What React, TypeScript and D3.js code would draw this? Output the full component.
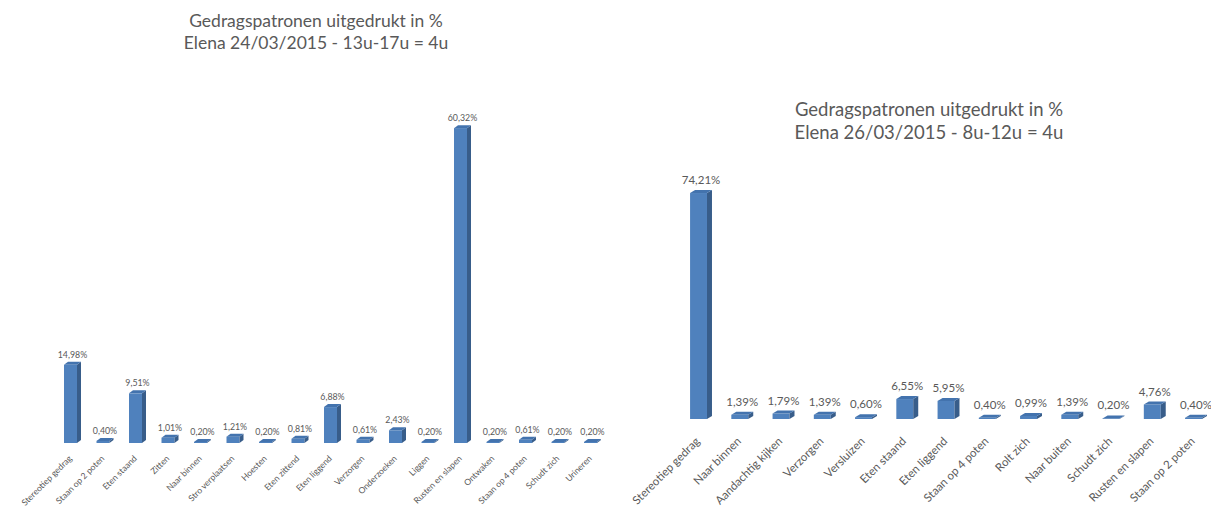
import React from "react";
import * as d3 from "d3";

const leftCategories = [
  "Stereotiep gedrag", "Staan op 2 poten", "Eten staand", "Zitten", "Naar binnen",
  "Stro verplaatsen", "Hoesten", "Eten zittend", "Eten liggend", "Verzorgen",
  "Onderzoeken", "Liggen", "Rusten en slapen", "Ontwaken", "Staan op 4 poten",
  "Schudt zich", "Urineren",
];
const leftValues = [14.98, 0.4, 9.51, 1.01, 0.2, 1.21, 0.2, 0.81, 6.88, 0.61, 2.43, 0.2, 60.32, 0.2, 0.61, 0.2, 0.2];
const leftTitle = ["Gedragspatronen uitgedrukt in %", "Elena 24/03/2015 - 13u-17u = 4u"];

const rightCategories = [
  "Stereotiep gedrag", "Naar binnen", "Aandachtig kijken", "Verzorgen", "Versluizen",
  "Eten staand", "Eten liggend", "Staan op 4 poten", "Rolt zich", "Naar buiten",
  "Schudt zich", "Rusten en slapen", "Staan op 2 poten",
];
const rightValues = [74.21, 1.39, 1.79, 1.39, 0.6, 6.55, 5.95, 0.4, 0.99, 1.39, 0.2, 4.76, 0.4];
const rightTitle = ["Gedragspatronen uitgedrukt in %", "Elena 26/03/2015 - 8u-12u = 4u"];

const FRONT = "#4F81BD";
const SIDE = "#385D8A";
const TOP = "#4373AE";
const TEXT = "#595959";
const FONT = "Lato, 'Open Sans', sans-serif";

const fmt = (v: number) => d3.format(".2f")(v).replace(".", ",") + "%";

type ChartProps = {
  categories: string[];
  values: number[];
  title: string[];
  x0: number;
  x1: number;
  base: number;
  yMax: number;
  yTop: number;
  barFrac: number;
  dx: number;
  dy: number;
  labelSize: number;
  valueSize: number;
  titleSize: number;
  titleX: number;
  titleY: number;
  titleGap: number;
  catDx: number;
  catDy: number;
  valGap: number;
};

function Chart(p: ChartProps) {
  const x = d3.scaleBand<string>().domain(p.categories).range([p.x0, p.x1]).padding(0);
  const y = d3.scaleLinear().domain([0, p.yMax]).range([p.base, p.yTop]);
  const w = x.bandwidth() * p.barFrac;
  return (
    <g>
      {p.title.map((t, i) => (
        <text key={i} x={p.titleX} y={p.titleY + i * p.titleGap} textAnchor="middle"
          fontFamily={FONT} fontSize={p.titleSize} fill={TEXT}>{t}</text>
      ))}
      {p.categories.map((c, i) => {
        const cx = (x(c) as number) + x.bandwidth() / 2;
        const xl = cx - w / 2;
        const xr = cx + w / 2;
        const yt = y(p.values[i]);
        const b = p.base;
        const side = `M${xr},${yt} L${xr + p.dx},${yt + p.dy} L${xr + p.dx},${b + p.dy} L${xr},${b} Z`;
        const top = `M${xl},${yt} L${xl + p.dx},${yt + p.dy} L${xr + p.dx},${yt + p.dy} L${xr},${yt} Z`;
        return (
          <g key={c}>
            <rect x={xl} y={yt} width={w} height={b - yt} fill={FRONT} />
            <path d={side} fill={SIDE} />
            <path d={top} fill={TOP} />
            <text x={cx + p.dx / 2} y={yt + p.dy - p.valGap} textAnchor="middle"
              fontFamily={FONT} fontSize={p.valueSize} fill={TEXT}>{fmt(p.values[i])}</text>
            <text transform={`translate(${cx + p.catDx},${b + p.catDy}) rotate(-45)`} textAnchor="end"
              fontFamily={FONT} fontSize={p.labelSize} fill={TEXT}>{c}</text>
          </g>
        );
      })}
    </g>
  );
}

export default function App() {
  return (
    <div style={{ position: "absolute", left: 0, top: 0 }}>
      <svg width={1211} height={509} style={{ display: "block", background: "#fff" }}>
        <Chart categories={leftCategories} values={leftValues} title={leftTitle}
          x0={54.25} x1={54.25 + 17 * 32.5} base={443} yMax={70} yTop={443 - 70 * 5.22}
          barFrac={0.4} dx={4} dy={-3} labelSize={8.6} valueSize={8.8} titleSize={17.5}
          titleX={316} titleY={27} titleGap={22} catDx={2} catDy={16} valGap={4} />
        <Chart categories={rightCategories} values={rightValues} title={rightTitle}
          x0={677.9} x1={677.9 + 13 * 41.25} base={419} yMax={80} yTop={419 - 80 * 3.045}
          barFrac={0.41} dx={5} dy={-3} labelSize={11.5} valueSize={11.5} titleSize={18.5}
          titleX={929} titleY={116} titleGap={23} catDx={2} catDy={23} valGap={6} />
      </svg>
    </div>
  );
}
